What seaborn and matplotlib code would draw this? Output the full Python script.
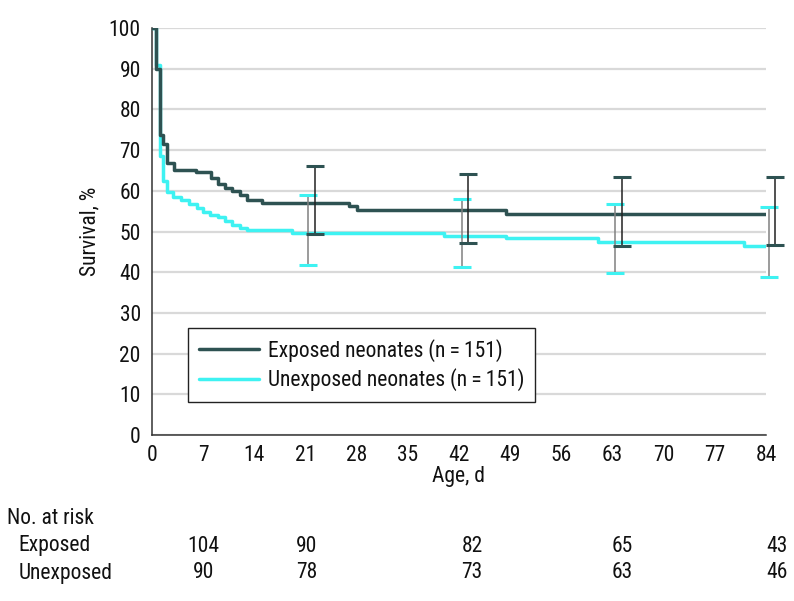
import numpy as np
import pandas as pd
import seaborn as sns
import matplotlib.pyplot as plt
from matplotlib.lines import Line2D

# Kaplan-Meier steps (day, survival %)
exp_days = [0, 0.6, 1.1, 1.55, 2.0, 3.05, 6.0, 8.1, 9.0, 10.0, 11.0, 12.0, 13.0, 15.0, 27.0, 28.0, 48.5, 84]
exp_surv = [100, 90.0, 73.7, 71.4, 66.8, 65.1, 64.5, 63.2, 61.6, 60.8, 60.0, 59.0, 57.7, 57.1, 56.3, 55.2, 54.4, 54.4]
unexp_days = [0, 0.6, 1.1, 1.55, 2.0, 2.9, 4.0, 5.1, 6.1, 7.0, 7.9, 9.0, 10.0, 10.9, 12.0, 13.0, 19.1, 40.0, 48.5, 61.0, 81.0, 84]
unexp_surv = [100, 90.9, 68.5, 62.3, 59.6, 58.6, 57.8, 56.7, 55.7, 54.9, 54.1, 53.5, 52.6, 51.6, 50.8, 50.4, 49.6, 48.9, 48.3, 47.5, 46.5, 46.5]

# 95% CI at selected days
ci_days = [21, 42, 63, 84]
exp_lo = [49.3, 47.2, 46.4, 46.6]
exp_hi = [66.1, 64.1, 63.3, 63.5]
unexp_lo = [41.8, 41.2, 39.7, 38.9]
unexp_hi = [59.0, 58.1, 56.7, 55.9]

# number at risk table
risk_days = [7, 21, 42, 63, 84]
risk_exposed = [104, 90, 82, 65, 43]
risk_unexposed = [90, 78, 73, 63, 46]
risk_shift = [0.0, 0.2, 1.8, 1.3, 1.5]  # layout only: where the columns sit

dark = "#2e5252"
cyan = "#3ef2f2"
txt = "#111111"
fs = 15.5

sns.set_theme(style="white")
plt.rcParams['font.family'] = ['Roboto Condensed', 'Lato', 'DejaVu Sans']

fig = plt.figure(figsize=(7.94, 6.01), dpi=100)
ax = fig.add_axes([0.1914, 0.2762, 0.7733, 0.6772])

df_e = pd.DataFrame({'day': exp_days, 'surv': exp_surv})
df_u = pd.DataFrame({'day': unexp_days, 'surv': unexp_surv})

sns.lineplot(data=df_u, x='day', y='surv', ax=ax, color=cyan, lw=2.5,
             drawstyle='steps-post', estimator=None, zorder=3)
sns.lineplot(data=df_e, x='day', y='surv', ax=ax, color=dark, lw=2.5,
             drawstyle='steps-post', estimator=None, zorder=4)

# error bars, shifted a little to the right of the day they belong to
def draw_ci(days, lo, hi, shift, capcol, barcol):
    x = np.array(days) + shift
    lo = np.array(lo)
    hi = np.array(hi)
    mid = (lo + hi) / 2
    _, caps, bars = ax.errorbar(x, mid, yerr=(hi - lo) / 2, fmt='none',
                                ecolor=barcol, elinewidth=1.1, capsize=6.5,
                                capthick=2.2, clip_on=False, zorder=5)
    for c in caps:
        c.set_markeredgecolor(capcol)
        c.set_clip_on(False)
    for b in bars:
        b.set_clip_on(False)

draw_ci(ci_days, unexp_lo, unexp_hi, 0.4, cyan, "#808080")
draw_ci(ci_days, exp_lo, exp_hi, 1.3, dark, "#222222")

ax.set_xlim(0, 84)
ax.set_ylim(0, 100)
ax.set_xticks(np.arange(0, 85, 7))
ax.set_yticks(np.arange(0, 101, 10))
ax.yaxis.grid(True, color="#d9d9d9", lw=1.6)
ax.set_axisbelow(True)
for s in ['top', 'right']:
    ax.spines[s].set_visible(False)
for s in ['left', 'bottom']:
    ax.spines[s].set_color("#333333")
    ax.spines[s].set_linewidth(1.1)
ax.tick_params(axis='both', direction='out', length=5, width=1.1,
               color="#333333", labelsize=fs, labelcolor=txt, pad=3)
ax.tick_params(axis='x', length=6, pad=1.5)
ax.set_xlabel("Age, d", fontsize=fs, color=txt, labelpad=0)
ax.set_ylabel("Survival, %", fontsize=fs, color=txt, labelpad=6)

handles = [Line2D([], [], color=dark, lw=2.5), Line2D([], [], color=cyan, lw=2.5)]
labels = ["Exposed neonates (n\u2009=\u2009151)", "Unexposed neonates (n\u2009=\u2009151)"]
leg = ax.legend(handles, labels, loc='upper left', bbox_to_anchor=(0.0586, 0.263),
                borderaxespad=0, fontsize=fs, handlelength=2.8, handletextpad=0.4,
                fancybox=False, framealpha=1, edgecolor="#222222",
                borderpad=0.5, labelspacing=0.3)
leg.get_frame().set_linewidth(1.0)
for t in leg.get_texts():
    t.set_color(txt)

# No. at risk table
fig.text(0.009, 1 - 518 / 601, "No. at risk", fontsize=fs, va='center', color=txt)
fig.text(0.023, 1 - 546 / 601, "Exposed", fontsize=fs, va='center', color=txt)
fig.text(0.023, 1 - 573 / 601, "Unexposed", fontsize=fs, va='center', color=txt)
for i, d in enumerate(risk_days):
    xf = ax.transData.transform((d + risk_shift[i], 0))[0] / fig.bbox.width
    fig.text(xf, 1 - 546 / 601, str(risk_exposed[i]), fontsize=fs, va='center',
             ha='center', color=txt)
    fig.text(xf, 1 - 573 / 601, str(risk_unexposed[i]), fontsize=fs, va='center',
             ha='center', color=txt)

fig.savefig("out.png", dpi=100)
